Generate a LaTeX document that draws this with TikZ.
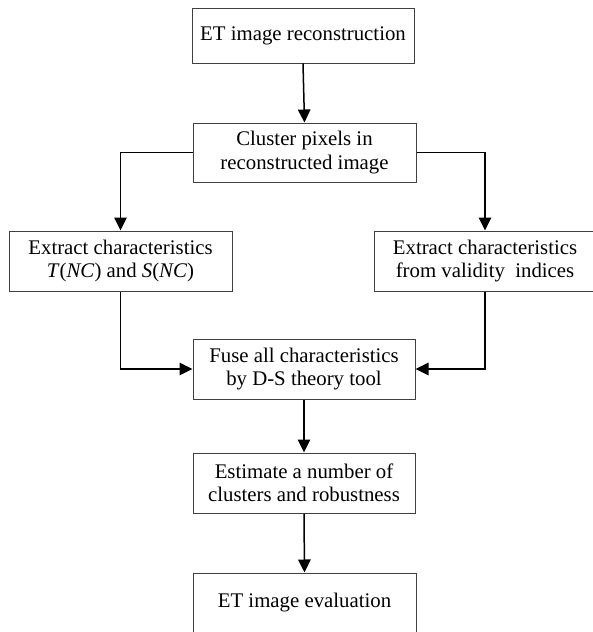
\documentclass[tikz,border=0pt]{standalone}
\usepackage{fontspec}
\setmainfont{Liberation Serif}
\usetikzlibrary{arrows.meta}
\tikzset{
  boxnode/.style={draw=black!75, line width=1pt, rectangle, minimum width=222pt, minimum height=60pt,
    inner sep=0pt, align=center, font=\fontsize{20.8}{23.5}\selectfont, text=black},
  conn/.style={draw=black, line width=1.5pt, -{Triangle[width=12.5pt,length=13pt]}}
}
\begin{document}
\begin{tikzpicture}[x=1pt,y=-1pt]
\useasboundingbox (0,0) rectangle (593,632);
\clip (0,0) rectangle (593,632);
\fill[white] (0,0) rectangle (593,632);
\node[boxnode, minimum height=55pt] (b1) at (303,35.5) {ET image reconstruction};
\node[boxnode, minimum width=223pt, minimum height=59pt] (b2) at (304.5,152.5) {Cluster pixels in\\reconstructed image};
\node[boxnode, minimum width=223pt] (b3) at (120.5,261) {Extract characteristics\\\textit{T}(\textit{NC}) and \textit{S}(\textit{NC})};
\node[boxnode] (b4) at (485,261) {Extract characteristics\\from validity\hspace{0.25em} indices};
\node[boxnode] (b5) at (304,369) {Fuse all characteristics\\by D-S theory tool};
\node[boxnode] (b6) at (304,483) {Estimate a number of\\clusters and robustness};
\node[boxnode, minimum width=223pt] (b7) at (304.5,603) {ET image evaluation};
\draw[conn] (b1.south) -- (b2.north);
\draw[conn] (b2.west) -| (b3.north);
\draw[conn] (b2.east) -| (b4.north);
\draw[conn] (b3.south) |- (b5.west);
\draw[conn] (b4.south) |- (b5.east);
\draw[conn] (b5.south) -- (b6.north);
\draw[conn] (b6.south) -- (b7.north);
\end{tikzpicture}
\end{document}
